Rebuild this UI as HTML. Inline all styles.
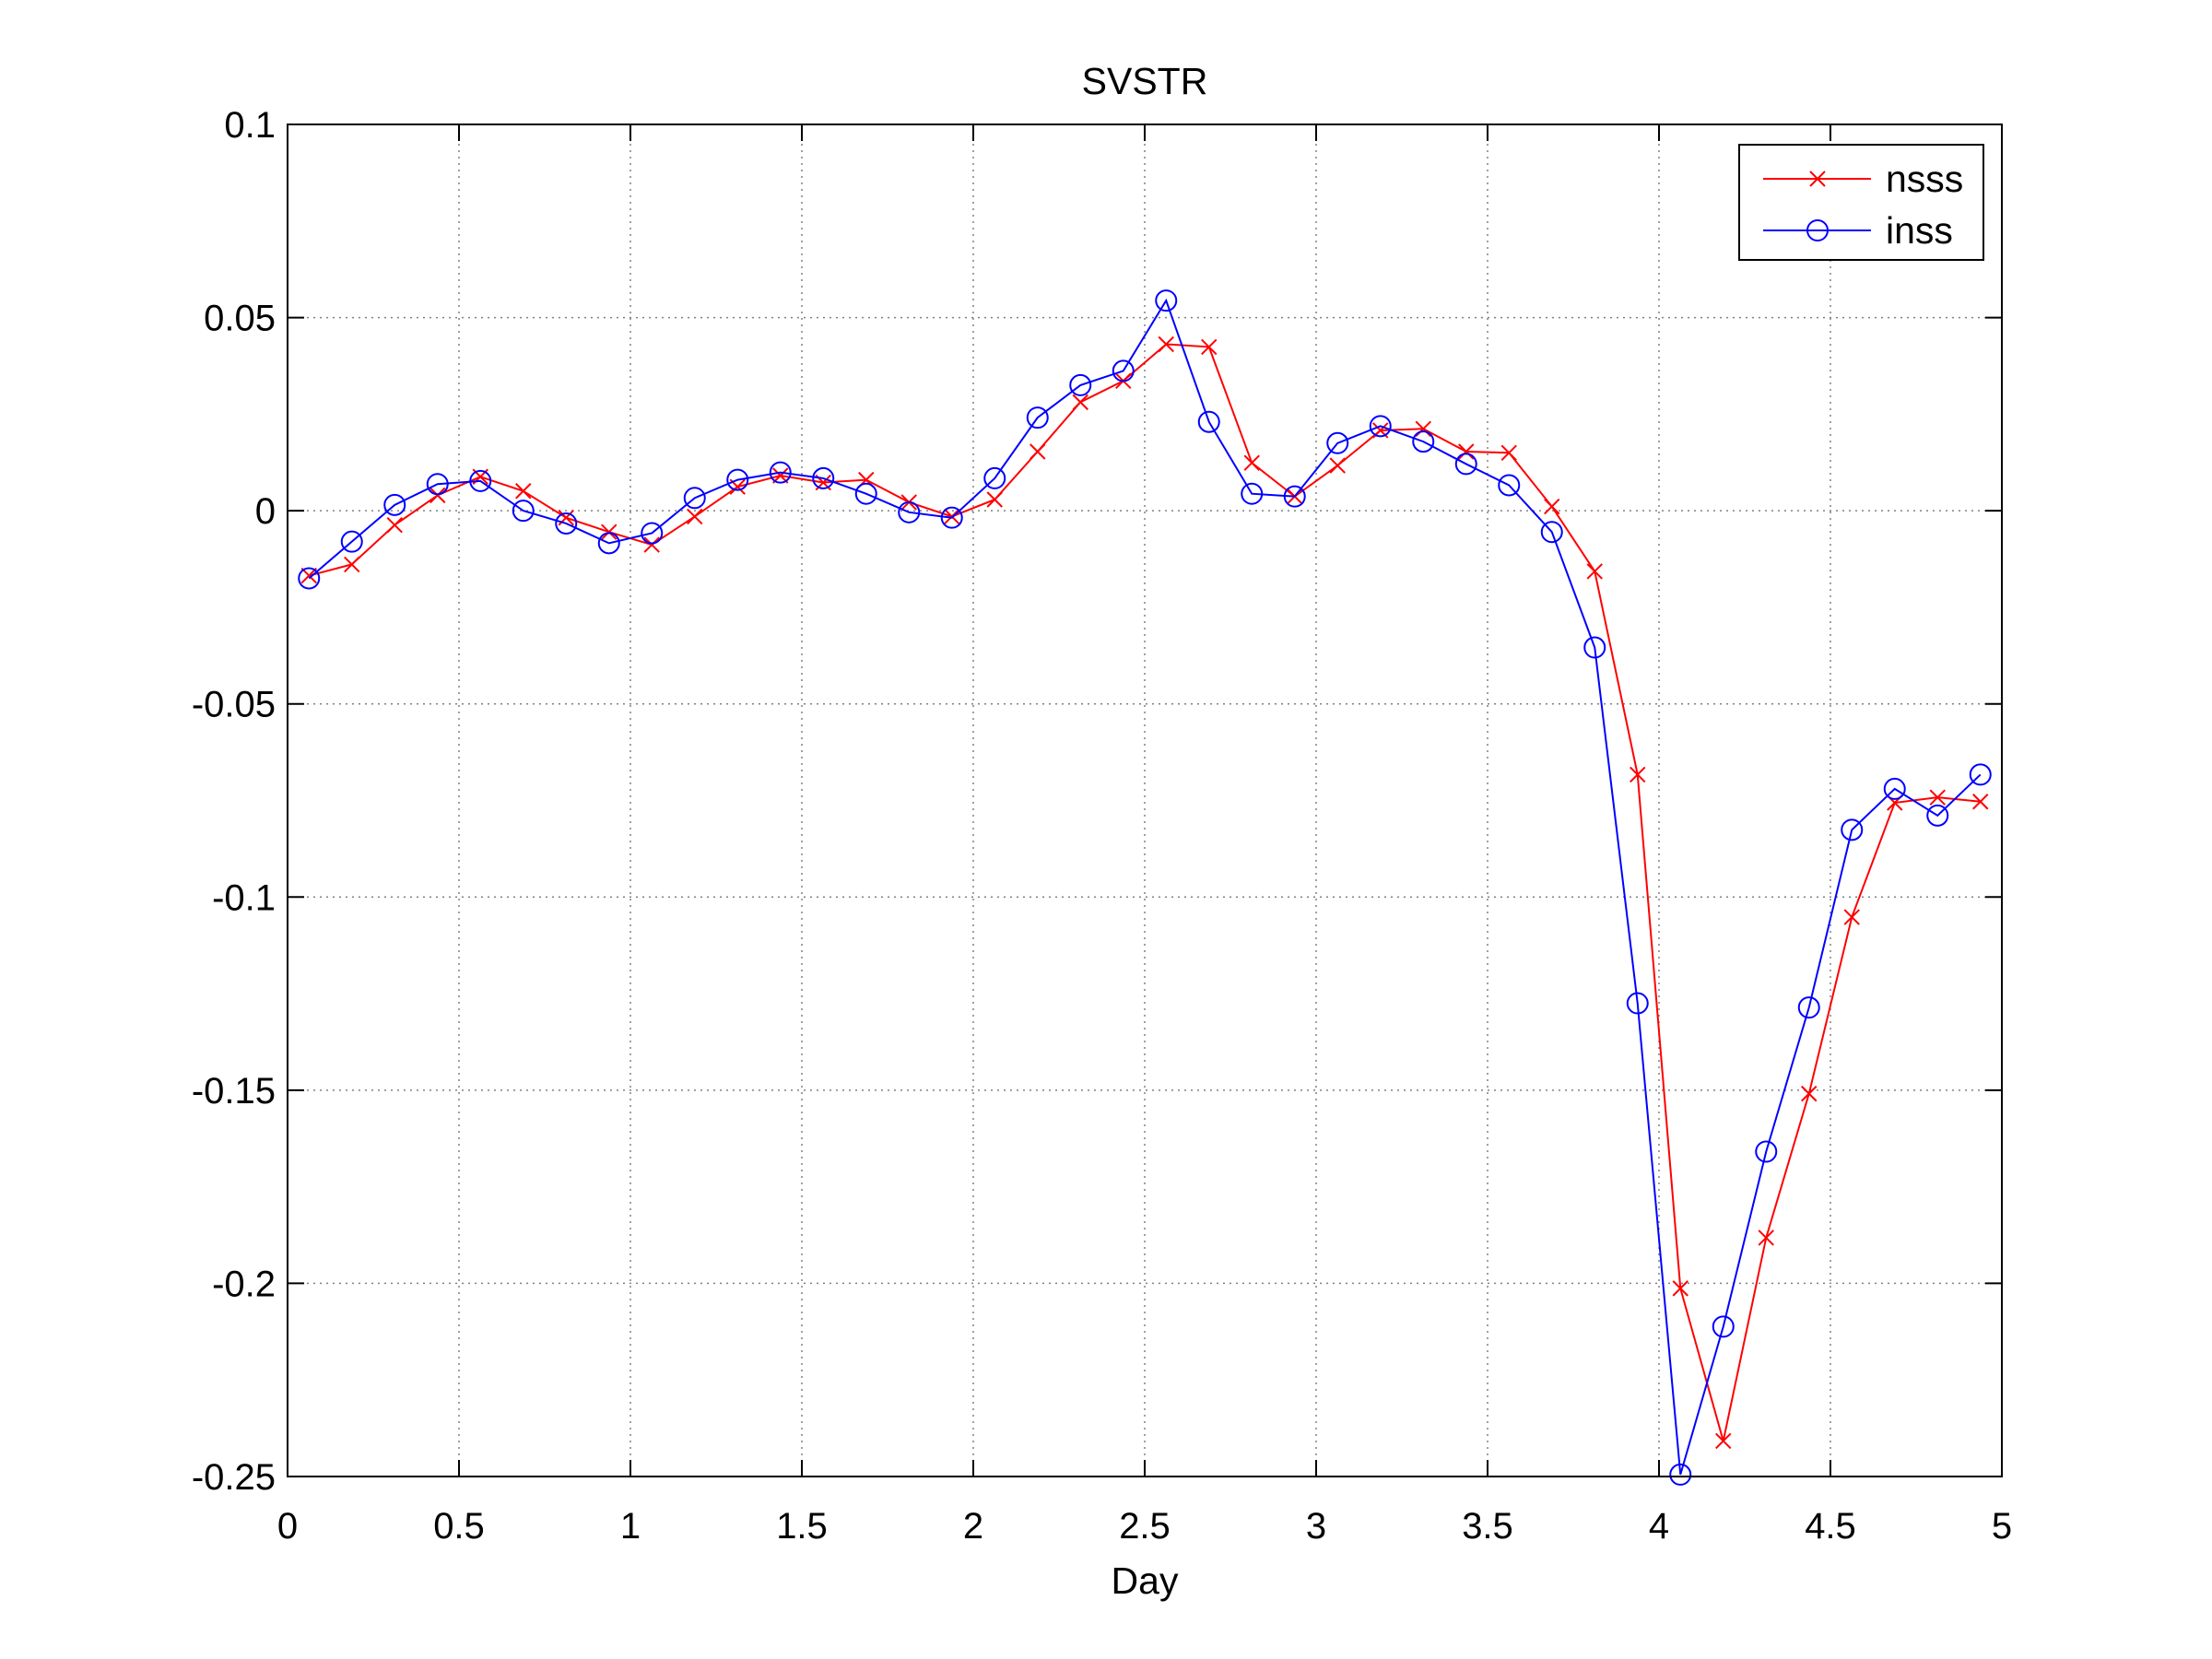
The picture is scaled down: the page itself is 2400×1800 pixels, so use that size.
<!DOCTYPE html>
<html><head><meta charset="utf-8"><style>html,body{margin:0;padding:0;background:#fff}svg{display:block}text{font-family:"Liberation Sans",sans-serif;fill:#000}</style></head>
<body>
<svg id="chart" width="2400" height="1800" viewBox="0 0 2400 1800" xmlns="http://www.w3.org/2000/svg">
<rect width="2400" height="1800" fill="#fff"/>
<g id="grid"></g><g id="series"></g><g id="axes"></g><g id="legend"></g>
</svg>
<script>
const xValues = [0.0625,0.1875,0.3125,0.4375,0.5625,0.6875,0.8125,0.9375,1.0625,1.1875,1.3125,1.4375,1.5625,1.6875,1.8125,1.9375,2.0625,2.1875,2.3125,2.4375,2.5625,2.6875,2.8125,2.9375,3.0625,3.1875,3.3125,3.4375,3.5625,3.6875,3.8125,3.9375,4.0625,4.1875,4.3125,4.4375,4.5625,4.6875,4.8125,4.9375];
const nsss = [-0.0168,-0.0139,-0.0037,0.004,0.0088,0.0051,-0.0018,-0.0055,-0.0088,-0.0015,0.0062,0.0091,0.0073,0.008,0.0022,-0.0015,0.0029,0.0153,0.0281,0.0336,0.0431,0.0424,0.0124,0.0037,0.0117,0.0208,0.0212,0.0153,0.015,0.0011,-0.0157,-0.0683,-0.2013,-0.2408,-0.1882,-0.1509,-0.1052,-0.0756,-0.0742,-0.0753];
const inss = [-0.0175,-0.008,0.0015,0.0069,0.0077,0,-0.0033,-0.0084,-0.0058,0.0033,0.008,0.0099,0.0084,0.0044,-0.0004,-0.0018,0.0084,0.0241,0.0325,0.0362,0.0544,0.023,0.0044,0.0037,0.0175,0.0219,0.0179,0.0121,0.0066,-0.0055,-0.0354,-0.1275,-0.2495,-0.2112,-0.1659,-0.1286,-0.0826,-0.072,-0.0789,-0.0683];
const xTicks = [0,0.5,1,1.5,2,2.5,3,3.5,4,4.5,5];
const xTickLabels = ["0","0.5","1","1.5","2","2.5","3","3.5","4","4.5","5"];
const yTicks = [0.1,0.05,0,-0.05,-0.1,-0.15,-0.2,-0.25];
const yTickLabels = ["0.1","0.05","0","-0.05","-0.1","-0.15","-0.2","-0.25"];

const L=312,R=2172,T=135,B=1602;
const X=v=>L+(v-0)/(5-0)*(R-L);
const Y=v=>T+(0.1-v)/(0.1-(-0.25))*(B-T);
const NS="http://www.w3.org/2000/svg";
function mk(tag,attrs,parent){const e=document.createElementNS(NS,tag);for(const k in attrs)e.setAttribute(k,attrs[k]);parent.appendChild(e);return e;}
const grid=document.getElementById('grid'),axes=document.getElementById('axes'),series=document.getElementById('series'),legend=document.getElementById('legend');

xTicks.forEach((t,i)=>{
  const x=X(t);
  if(i>0&&i<xTicks.length-1){const g=mk('line',{x1:x,y1:T,x2:x,y2:B,stroke:'#808080','stroke-width':1.5,'stroke-dasharray':'2,5'},grid);
  
  }
  mk('line',{x1:x,y1:B,x2:x,y2:B-18,stroke:'#000','stroke-width':2},axes);
  mk('line',{x1:x,y1:T,x2:x,y2:T+18,stroke:'#000','stroke-width':2},axes);
  const tx=mk('text',{x:x,y:1669,'font-size':40,'text-anchor':'middle'},axes);tx.textContent=xTickLabels[i];
  
  
});
yTicks.forEach((t,i)=>{
  const y=Y(t);
  if(i>0&&i<yTicks.length-1){const g=mk('line',{x1:L,y1:y,x2:R,y2:y,stroke:'#808080','stroke-width':1.5,'stroke-dasharray':'2,5'},grid);
  
  }
  mk('line',{x1:L,y1:y,x2:L+18,y2:y,stroke:'#000','stroke-width':2},axes);
  mk('line',{x1:R,y1:y,x2:R-18,y2:y,stroke:'#000','stroke-width':2},axes);
  const tx=mk('text',{x:299,y:y+14,'font-size':40,'text-anchor':'end'},axes);tx.textContent=yTickLabels[i];
  
  
});
const box=mk('rect',{x:L,y:T,width:R-L,height:B-T,fill:'none',stroke:'#000','stroke-width':2},axes);


const title=mk('text',{x:(L+R)/2,y:102,'font-size':41,'text-anchor':'middle'},axes);title.textContent='SVSTR';


const xl=mk('text',{x:(L+R)/2,y:1729,'font-size':41,'text-anchor':'middle'},axes);xl.textContent='Day';



function cross(x,y,c,p){const s=8;mk('path',{d:`M${x-s},${y-s}L${x+s},${y+s}M${x-s},${y+s}L${x+s},${y-s}`,stroke:c,'stroke-width':2,fill:'none'},p);}
function circ(x,y,c,p){mk('circle',{cx:x,cy:y,r:11,stroke:c,'stroke-width':2,fill:'none'},p);}
function draw(vals,color,marker,name){
  const g=mk('g',{},series);
  
  
  mk('polyline',{points:vals.map((v,i)=>X(xValues[i])+','+Y(v)).join(' '),fill:'none',stroke:color,'stroke-width':2},g);
  vals.forEach((v,i)=>marker(X(xValues[i]),Y(v),color,g));
}
draw(nsss,'#ff0000',cross,'nsss-series');
draw(inss,'#0000ff',circ,'inss-series');

const lb=mk('rect',{x:1887,y:157,width:265,height:125,fill:'#fff',stroke:'#000','stroke-width':2},legend);


[['nsss','#ff0000',cross,194],['inss','#0000ff',circ,250]].forEach(([n,c,m,y])=>{
  const g=mk('g',{},legend);
  
  
  mk('line',{x1:1913,y1:y,x2:2030,y2:y,stroke:c,'stroke-width':2},g);
  m(1972,y,c,g);
  const t=mk('text',{x:2046,y:y+14,'font-size':41},g);t.textContent=n;
});
</script>
</body></html>
